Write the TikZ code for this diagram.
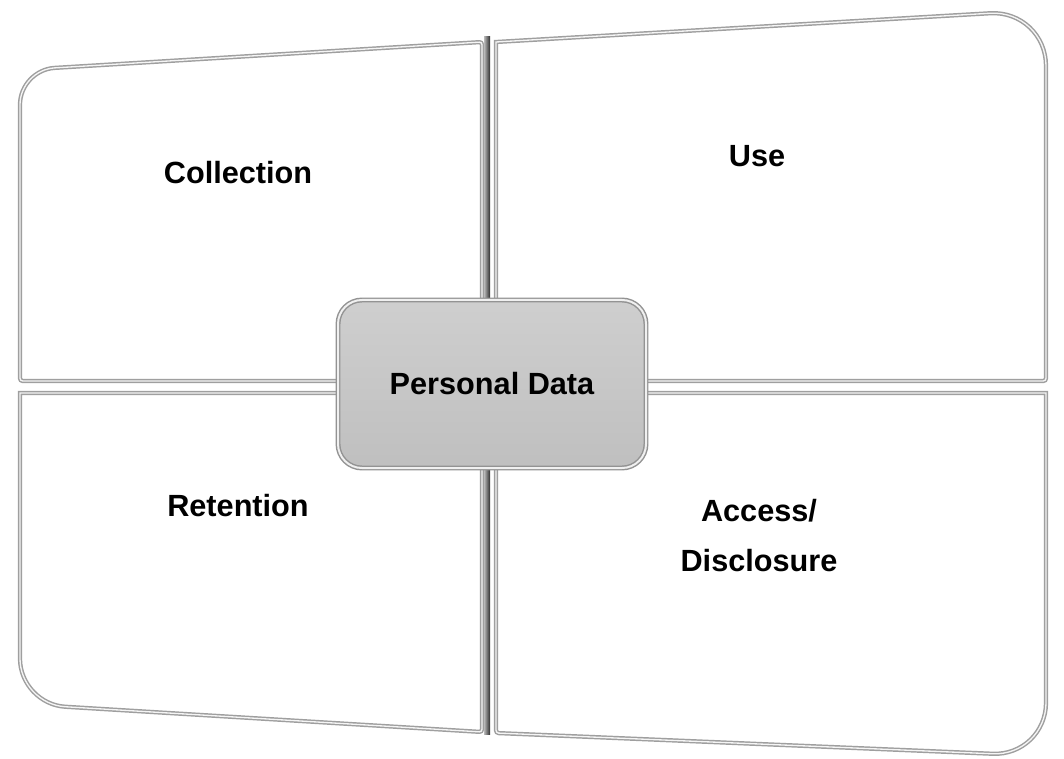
\documentclass[tikz,border=0pt]{standalone}
\usepackage{fontspec}
\setmainfont{Liberation Sans}
\usetikzlibrary{positioning}
\tikzstyle{panel}=[draw=gray!75,double=gray!8,line width=1.1pt,double distance=1pt,fill=white]
\tikzstyle{ridge}=[left color=gray!55,right color=gray!35!black]
\tikzstyle{core}=[draw=gray!85,double=gray!12,line width=1.1pt,double distance=1.5pt,top color=gray!38,bottom color=gray!50,rounded corners=18pt,minimum width=231pt,minimum height=126pt]
\tikzstyle{caption}=[font=\fontsize{23}{37.5}\selectfont\bfseries,align=center]
\begin{document}
\begin{tikzpicture}[x=0.75pt,y=-0.75pt]
\useasboundingbox (0,0) rectangle (1064,759);
% quadrants
\draw[panel] (20,381) [rounded corners=26pt] -- (20,70) [rounded corners=2pt] -- (482,42) -- (482,381) -- cycle;
\draw[panel] (496,381) -- (496,42) [rounded corners=42pt] -- (1046,10) [rounded corners=2pt] -- (1046,381) -- cycle;
\draw[panel] (482,393) -- (20,393) [rounded corners=34pt] -- (20,704) [rounded corners=2pt] -- (482,732) -- cycle;
\draw[panel] (496,393) -- (1046,393) [rounded corners=40pt] -- (1046,756) [rounded corners=2pt] -- (496,733) -- cycle;
\shade[ridge] (484,37) rectangle (490,381);
\shade[ridge] (484,393) rectangle (490,734);
% centre
\node[core,caption] (data) at (492,384) {Personal Data};
\node[caption] (collection) at (238,173) {Collection};
\node[caption] (use) at (757,156) {Use};
\node[caption] (retention) at (238,506) {Retention};
\node[caption] (access) at (759,536) {Access/\\Disclosure};
\end{tikzpicture}
\end{document}
